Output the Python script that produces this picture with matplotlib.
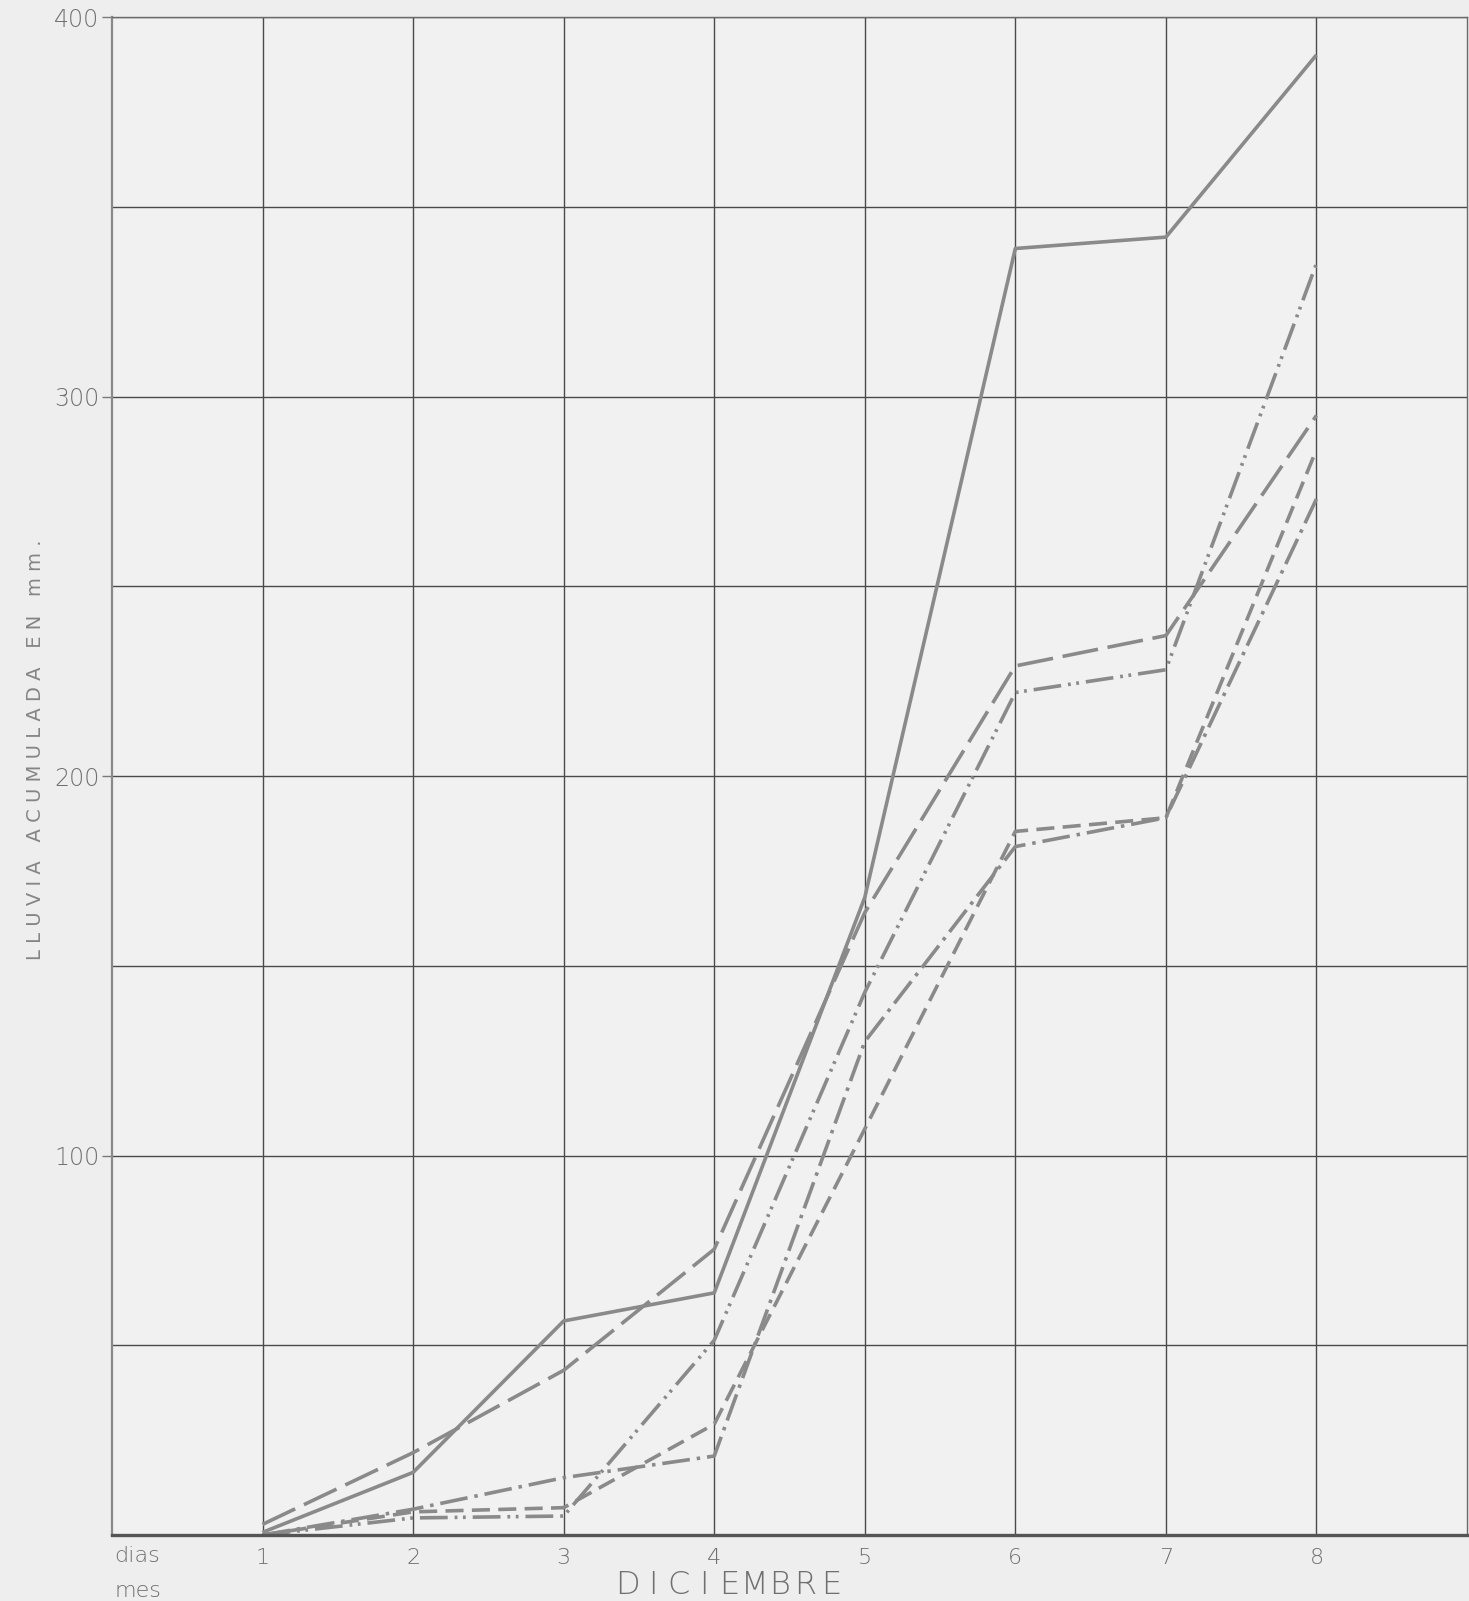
import matplotlib
matplotlib.use("Agg")
import matplotlib.pyplot as plt
import numpy as np

# ---- data ----
dias = [1, 2, 3, 4, 5, 6, 7, 8]
serie_solida = [0.7, 16.5, 56.4, 63.8, 168, 339, 342, 390]
serie_raya_larga = [2.8, 21.7, 43.4, 75.3, 164, 229, 237, 295]
serie_raya_dos_puntos = [0, 4.5, 5.0, 51.3, 143, 222, 228, 335]
serie_raya_punto = [0, 6.8, 15.1, 20.8, 130, 181.4, 189, 273]
serie_rayas = [0, 6.1, 7.2, 29.2, 107, 185.4, 189, 286]

y_ticks = [100, 200, 300, 400]
y_tick_labels = ["100", "200", "300", "400"]
y_minor = [50, 150, 250, 350]
x_tick_labels = ["1", "2", "3", "4", "5", "6", "7", "8"]
y_label = "L L U V I A   A C U M U L A D A   E N   m m ."
mes = "DICIEMBRE"

plt.rcParams['lines.scale_dashes'] = False
plt.rcParams['font.family'] = ['DejaVu Sans']

W, H = 1469, 1601
fig = plt.figure(figsize=(W / 100, H / 100), dpi=100, facecolor='#eeeeee')
ax = fig.add_axes([112 / W, 66 / H, (1467 - 112) / W, (1535 - 17) / H])
ax.set_facecolor('#f1f1f1')

line_col = '#8a8a8a'
lw = 2.6
ax.plot(dias, serie_solida, color=line_col, lw=lw, solid_capstyle='butt')
ax.plot(dias, serie_raya_larga, color=line_col, lw=lw, dashes=(26, 7), dash_capstyle='butt')
ax.plot(dias, serie_raya_dos_puntos, color=line_col, lw=lw, dashes=(20, 5, 2, 4, 2, 5), dash_capstyle='butt')
ax.plot(dias, serie_raya_punto, color=line_col, lw=lw, dashes=(20, 5, 2.5, 5), dash_capstyle='butt')
ax.plot(dias, serie_rayas, color=line_col, lw=lw, dashes=(13, 6), dash_capstyle='butt')

ax.set_xlim(0, 9)
ax.set_ylim(0, 400)
ax.set_xticks(dias)
ax.set_xticklabels(x_tick_labels)
ax.set_yticks(y_ticks)
ax.set_yticklabels(y_tick_labels)
ax.set_yticks(y_minor, minor=True)

grid_col = '#4a4a4a'
ax.grid(True, which='major', color=grid_col, lw=1.0)
ax.grid(True, which='minor', axis='y', color=grid_col, lw=1.0)
ax.set_axisbelow(True)

txt_col = '#707070'
ax.tick_params(axis='x', length=0, pad=9, labelsize=16, labelcolor=txt_col)
ax.tick_params(axis='y', which='major', length=7, width=1.0, color='#7a7a7a',
               pad=2, labelsize=17, labelcolor=txt_col)
ax.tick_params(axis='y', which='minor', length=0)
for lab in ax.get_xticklabels() + ax.get_yticklabels():
    lab.set_fontweight('light')

for s in ['top', 'right']:
    ax.spines[s].set_color('#6a6a6a')
    ax.spines[s].set_linewidth(1.0)
ax.spines['left'].set_color('#8a8a8a')
ax.spines['left'].set_linewidth(1.6)
ax.spines['bottom'].set_color('#555555')
ax.spines['bottom'].set_linewidth(2.4)

fig.text(36 / W, 1 - 750 / H, y_label, rotation=90, ha='center', va='center',
         fontsize=14, color='#858585', fontweight='normal')
fig.text(114 / W, 1 - 1556 / H, "dias", ha='left', va='center', fontsize=16,
         color=txt_col, fontweight='light')
fig.text(114 / W, 1 - 1591 / H, "mes", ha='left', va='center', fontsize=16,
         color=txt_col, fontweight='light')

# month label, letter-spaced
cx, pitch = 729, 25.5
n = len(mes)
for i, ch in enumerate(mes):
    xpx = cx + (i - (n - 1) / 2) * pitch
    fig.text(xpx / W, 1 - 1585 / H, ch, ha='center', va='center', fontsize=23,
             color=txt_col, fontweight='light')

fig.savefig('out.png', dpi=100, facecolor=fig.get_facecolor())
